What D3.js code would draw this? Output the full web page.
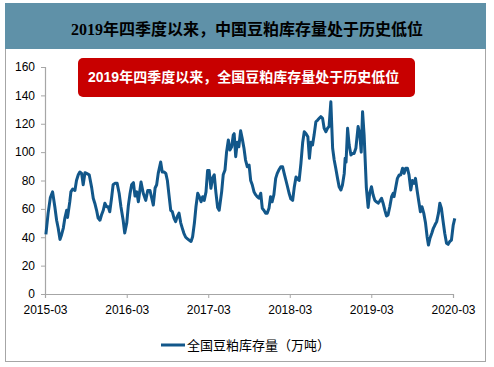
<!DOCTYPE html>
<html>
<head>
<meta charset="utf-8">
<script src="https://cdn.jsdelivr.net/npm/d3@7"></script>
<style>
  body { margin: 0; background: #fff; }
  svg { display: block; }
</style>
</head>
<body>
<script>
// datos (semanal aprox.)
var fechas = [
  "2015-03-05","2015-03-15","2015-03-25","2015-04-04","2015-04-14","2015-04-22","2015-04-29","2015-05-07","2015-05-14","2015-05-22",
  "2015-05-29","2015-06-06","2015-06-10","2015-06-20","2015-06-25","2015-07-03","2015-07-13","2015-07-20","2015-07-28","2015-08-04",
  "2015-08-12","2015-08-19","2015-08-27","2015-09-03","2015-09-15","2015-09-26","2015-10-03","2015-10-10","2015-10-18","2015-10-25",
  "2015-11-02","2015-11-09","2015-11-17","2015-11-24","2015-12-02","2015-12-09","2015-12-16","2015-12-24","2015-12-31","2016-01-08",
  "2016-01-18","2016-01-27","2016-02-04","2016-02-14","2016-02-21","2016-03-01","2016-03-08","2016-03-16","2016-03-23","2016-03-31",
  "2016-04-07","2016-04-15","2016-04-22","2016-05-04","2016-05-14","2016-05-25","2016-06-03","2016-06-13","2016-06-21","2016-06-28",
  "2016-07-06","2016-07-13","2016-07-20","2016-07-31","2016-08-07","2016-08-15","2016-08-23","2016-08-30","2016-09-06","2016-09-14",
  "2016-09-21","2016-09-29","2016-10-06","2016-10-13","2016-10-21","2016-10-29","2016-11-05","2016-11-12","2016-11-20","2016-11-27",
  "2016-12-05","2016-12-14","2016-12-21","2016-12-29","2017-01-05","2017-01-13","2017-01-20","2017-01-28","2017-02-04","2017-02-11",
  "2017-02-19","2017-02-26","2017-03-05","2017-03-13","2017-03-21","2017-03-28","2017-04-04","2017-04-12","2017-04-19","2017-04-30",
  "2017-05-07","2017-05-15","2017-05-22","2017-05-30","2017-06-06","2017-06-14","2017-06-21","2017-06-25","2017-07-02","2017-07-09",
  "2017-07-16","2017-07-24","2017-07-31","2017-08-08","2017-08-15","2017-08-23","2017-08-31","2017-09-07","2017-09-14","2017-09-22",
  "2017-09-29","2017-10-06","2017-10-14","2017-10-22","2017-10-29","2017-11-05","2017-11-13","2017-11-20","2017-11-28","2017-12-05",
  "2017-12-12","2017-12-20","2017-12-28","2018-01-04","2018-01-11","2018-01-20","2018-01-28","2018-02-04","2018-02-12","2018-02-19",
  "2018-02-26","2018-03-06","2018-03-14","2018-03-21","2018-03-29","2018-04-05","2018-04-12","2018-04-20","2018-04-28","2018-05-05",
  "2018-05-13","2018-05-21","2018-05-28","2018-06-04","2018-06-11","2018-06-18","2018-06-26","2018-07-04","2018-07-11","2018-07-18",
  "2018-07-26","2018-08-02","2018-08-10","2018-08-17","2018-08-24","2018-09-01","2018-09-09","2018-09-16","2018-09-23","2018-10-01",
  "2018-10-08","2018-10-16","2018-10-23","2018-10-31","2018-11-04","2018-11-08","2018-11-15","2018-11-22","2018-11-30","2018-12-07",
  "2018-12-14","2018-12-22","2019-01-01","2019-01-09","2019-01-15","2019-01-21","2019-01-28","2019-02-07","2019-02-15","2019-02-22",
  "2019-03-02","2019-03-09","2019-03-17","2019-03-24","2019-04-01","2019-04-08","2019-04-16","2019-04-23","2019-05-01","2019-05-08",
  "2019-05-15","2019-05-23","2019-05-31","2019-06-07","2019-06-11","2019-06-19","2019-06-26","2019-07-04","2019-07-11","2019-07-19",
  "2019-07-26","2019-08-02","2019-08-10","2019-08-17","2019-08-25","2019-09-01","2019-09-09","2019-09-15","2019-09-22","2019-09-30",
  "2019-10-07","2019-10-14","2019-10-22","2019-10-30","2019-11-06","2019-11-12","2019-11-19","2019-11-27","2019-12-04","2019-12-11",
  "2019-12-19","2019-12-27","2020-01-02","2020-01-09","2020-01-16","2020-01-24","2020-02-01","2020-02-08","2020-02-15","2020-02-23",
  "2020-03-02","2020-03-09"
]

var stock = [
  42, 57, 68, 72, 61.5, 52, 46.5, 38.5, 41.6, 46.5,
  53.5, 59, 54, 65, 72, 74, 73, 80, 84, 86,
  85, 77, 85.5, 85, 84, 75, 67.5, 64, 59, 53.5,
  52, 55.7, 59, 64, 61.5, 61.5, 58, 67.5, 77, 78,
  78, 71, 61.5, 52, 43, 50, 62, 71, 77, 78.5,
  69, 72, 65, 79, 71, 66, 73, 73, 67.5, 62.7,
  74.7, 77, 85, 93, 86, 86, 85, 80, 70, 59,
  58, 53.3, 51, 54.5, 57, 50, 46.3, 42.8, 40, 39,
  38, 37, 40.4, 50, 61.5, 71, 68.6, 65, 68.6, 66,
  72, 87, 87, 74.5, 82, 84, 72, 61, 59, 72,
  84, 87.4, 100, 108.5, 101.5, 103.8, 112, 113, 96.8, 107,
  103.8, 115, 109.7, 102.7, 94.4, 89.7, 90.9, 80, 77, 72,
  70, 68.6, 67.5, 71, 60.4, 59, 57, 57, 60.4, 68.6,
  65, 70, 81.5, 85, 87.4, 89.7, 89.7, 85, 80, 75.6,
  71, 67, 66, 75, 82.5, 81, 80, 92, 107, 114.4,
  113, 110.9, 95.6, 107, 105, 112, 121.4, 122.6, 123.8, 125,
  123.8, 116.8, 114.4, 116.8, 118, 135.5, 102.7, 94.4, 88.6, 81.5,
  75.6, 73.3, 76.8, 85, 95.6, 93, 116.8, 105, 98, 99,
  99, 102.7, 118, 112, 100, 128.5, 112, 75, 61, 71,
  75.6, 70, 66, 65, 64, 65.5, 67.5, 64, 59, 55,
  55.7, 61.5, 68.6, 71, 68.6, 75.6, 81.5, 83.9, 83.9, 88.6,
  85, 88.6, 88.6, 83.9, 73.3, 80, 78, 81.5, 73.3, 65,
  58, 61.5, 57, 50, 40.4, 34.5, 39.3, 42.8, 46.3, 48.6,
  51, 57, 64, 60.4, 52, 42.8, 35.7, 35, 36.9, 38,
  48.6, 53.3
]

var ticksX = ["2015-03-01","2016-03-01","2017-03-01","2018-03-01","2019-03-01","2020-03-01"]
var ticksY = [0, 20, 40, 60, 80, 100, 120, 140, 160]

var titulo = "2019年四季度以来，中国豆粕库存量处于历史低位"
var nota = "2019年四季度以来，全国豆粕库存量处于历史低位"
var leyenda = "全国豆粕库存量（万吨）"

var width = 494
var height = 367

var margin = {
    top: 67,
    bottom: 294,
    left: 45,
    right: 453
}

var parseFecha = d3.timeParse("%Y-%m-%d")

var datos = fechas.map(function (f, i) {
    return { fecha: parseFecha(f), valor: stock[i] }
})

var escalaX = d3.scaleTime()
    .domain([parseFecha(ticksX[0]), parseFecha(ticksX[ticksX.length - 1])])
    .range([margin.left, margin.right])

var escalaY = d3.scaleLinear()
    .domain([0, 160])
    .range([margin.bottom, margin.top])

var svg = d3.select("body")
    .append("svg")
    .attr("width", width)
    .attr("height", height)

// marco y cabecera
svg.append("rect")
    .attr("x", 5.5).attr("y", 3.5)
    .attr("width", 480).attr("height", 358)
    .attr("fill", "#fff")
    .attr("stroke", "#a6a6a6")

svg.append("rect")
    .attr("x", 5).attr("y", 3)
    .attr("width", 481).attr("height", 46)
    .attr("fill", "#5f91a8")

svg.append("text")
    .attr("x", 247).attr("y", 35)
    .attr("text-anchor", "middle")
    .attr("font-family", "'Liberation Serif', 'Noto Sans CJK SC', serif")
    .attr("font-weight", "bold")
    .attr("font-size", 16)
    .attr("fill", "#000")
    .text(titulo)

// EJES
var ejeY = d3.axisLeft(escalaY)
    .tickValues(ticksY)
    .tickSize(4)
    .tickPadding(6)

var gY = svg.append("g")
    .attr("transform", "translate(" + margin.left + ",0)")
    .call(ejeY)

var ejeX = d3.axisBottom(escalaX)
    .tickValues(ticksX.map(parseFecha))
    .tickFormat(d3.timeFormat("%Y-%m"))
    .tickSize(4)
    .tickPadding(7)

var gX = svg.append("g")
    .attr("transform", "translate(0," + margin.bottom + ")")
    .call(ejeX)

svg.selectAll(".domain").attr("stroke", "#a6a6a6").attr("stroke-width", 1.2)
svg.selectAll(".tick line").attr("stroke", "#a6a6a6")
svg.selectAll(".tick text")
    .attr("font-family", "'Liberation Sans', Arial, sans-serif")
    .attr("font-size", 12)
    .attr("fill", "#000")

// linea
var linea = d3.line()
    .x(d => escalaX(d.fecha))
    .y(d => escalaY(d.valor))

svg.append("path")
    .datum(datos)
    .attr("d", linea)
    .attr("fill", "none")
    .attr("stroke", "#12578a")
    .attr("stroke-width", 3)
    .attr("stroke-linejoin", "round")

// cuadro rojo
svg.append("rect")
    .attr("x", 78).attr("y", 58)
    .attr("width", 337).attr("height", 39)
    .attr("rx", 5)
    .attr("fill", "#c80000")

svg.append("text")
    .attr("x", 88).attr("y", 82)
    .attr("font-family", "'Liberation Sans', 'Noto Sans CJK SC', sans-serif")
    .attr("font-weight", "bold")
    .attr("font-size", 14)
    .attr("fill", "#fff")
    .text(nota)

// leyenda
svg.append("line")
    .attr("x1", 161).attr("x2", 185)
    .attr("y1", 345).attr("y2", 345)
    .attr("stroke", "#12578a")
    .attr("stroke-width", 3)

svg.append("text")
    .attr("x", 187).attr("y", 350)
    .attr("font-family", "'Noto Sans CJK SC', sans-serif")
    .attr("font-size", 13)
    .attr("fill", "#000")
    .text(leyenda)
</script>
</body>
</html>
